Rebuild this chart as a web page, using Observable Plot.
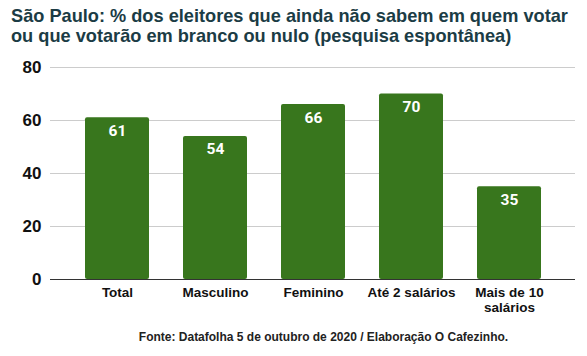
<!DOCTYPE html>
<html>
<head>
<meta charset="utf-8">
<script src="https://cdn.jsdelivr.net/npm/d3@7"></script>
<script src="https://cdn.jsdelivr.net/npm/@observablehq/plot@0.6"></script>
<style>
  body { margin: 0; background: #fff; font-family: "Liberation Sans", Arial, sans-serif; }
  #wrap { width: 587px; height: 356px; position: relative; overflow: hidden; }
  #title { padding: 6px 0 0 11px; font-weight: bold; font-size: 18.2px; line-height: 20px; color: #1b3c45; height: 40px; white-space: nowrap; }
  #caption { position: absolute; top: 330px; left: 60px; right: 0; text-align: center; font-weight: bold; font-size: 12px; color: #222; }
  svg { display: block; }
</style>
</head>
<body>
<div id="wrap">
  <div id="title">São Paulo: % dos eleitores que ainda não sabem em quem votar<br>ou que votarão em branco ou nulo (pesquisa espontânea)</div>
  <div id="chart"></div>
  <div id="caption">Fonte: Datafolha 5 de outubro de 2020 / Elaboração O Cafezinho.</div>
</div>
<script>
const categories = ["Total", "Masculino", "Feminino", "Até 2 salários", "Mais de 10 salários"];
const tickLabels = ["Total", "Masculino", "Feminino", "Até 2 salários", "Mais de 10\nsalários"];
const values = [61, 54, 66, 70, 35];
const yTicks = [0, 20, 40, 60, 80];

const data = categories.map((c, i) => ({category: c, value: values[i]}));
const labelOf = new Map(categories.map((c, i) => [c, tickLabels[i]]));

const chart = Plot.plot({
  width: 587,
  height: 274,
  marginLeft: 50,
  marginRight: 12,
  marginTop: 21,
  marginBottom: 41,
  style: {fontFamily: "Liberation Sans, Arial, sans-serif", background: "#fff"},
  x: {domain: categories, padding: 0.35, label: null},
  y: {domain: [0, 80], label: null},
  marks: [
    Plot.gridY(yTicks, {stroke: "#cccccc", strokeOpacity: 1, strokeWidth: 1}),
    Plot.barY(data, {x: "category", y: "value", fill: "#38761d", rx: 2}),
    Plot.ruleY([0], {stroke: "#333333", strokeWidth: 1}),
    Plot.axisY(yTicks, {tickSize: 0, tickPadding: 9, fontSize: 17, fontWeight: "bold", fill: "#111", label: null}),
    Plot.axisX({tickSize: 0, tickPadding: 7, fontSize: 13.5, fontWeight: "bold", fill: "#111", lineHeight: 1.1, tickFormat: d => labelOf.get(d), label: null}),
    Plot.text(data, {x: "category", y: "value", text: d => String(d.value), dy: 13, fill: "#ffffff", fontSize: 15.5, fontWeight: "bold", fontFamily: "Roboto, sans-serif"})
  ]
});
document.getElementById("chart").appendChild(chart);
</script>
</body>
</html>
